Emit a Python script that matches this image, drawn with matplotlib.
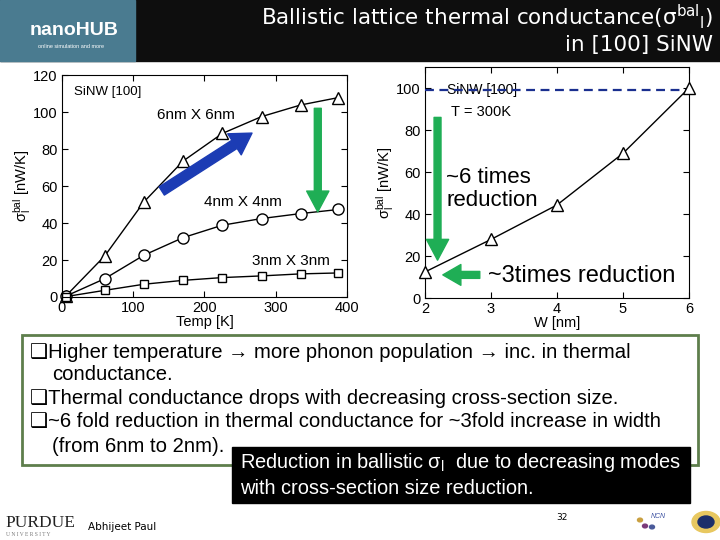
import matplotlib
matplotlib.use("Agg")
import matplotlib.pyplot as plt
from matplotlib.patches import Rectangle, Circle

plt.rcParams['font.family'] = ['Liberation Sans', 'DejaVu Sans']
plt.rcParams['mathtext.default'] = 'regular'

# left panel: conductance vs temperature
temp = [5, 60, 115, 170, 225, 280, 335, 388]
sig_6nm = [0.4, 22.2, 51.4, 73.5, 88.4, 97.5, 103.8, 107.8]
sig_4nm = [0.4, 9.9, 22.6, 32.1, 38.8, 42.4, 45.1, 47.3]
sig_3nm = [0.2, 3.6, 6.9, 9.0, 10.5, 11.4, 12.5, 13.0]

# right panel: conductance vs width at 300 K
width = [2, 3, 4, 5, 6]
sig_300k = [12.4, 27.9, 44.3, 68.9, 100.0]
ref_level = 99

bullets = [
    "\u2751Higher temperature \u2192 more phonon population \u2192 inc. in thermal",
    "conductance.",
    "\u2751Thermal conductance drops with decreasing cross-section size.",
    "\u2751~6 fold reduction in thermal conductance for ~3fold increase in width",
    "(from 6nm to 2nm).",
]
indent = [False, True, False, False, True]

W, H = 720, 540
fig = plt.figure(figsize=(7.2, 5.4), dpi=100)


def fx(px):
    return px / W


def fy(py):
    return 1 - py / H


green = '#1fae55'
blue = '#1c3cb4'

# header bar
fig.patches.append(Rectangle((0, fy(61)), 1, 61 / H, transform=fig.transFigure,
                             color='#0e0e0e', zorder=0))
fig.patches.append(Rectangle((0, fy(61)), fx(135), 61 / H, transform=fig.transFigure,
                             color='#4a7b90', zorder=0))
fig.text(fx(30), fy(31), "nanoHUB", color='white', fontsize=14, fontweight='bold',
         va='center', ha='left')
fig.text(fx(38), fy(46), "online simulation and more", color='white', fontsize=4,
         va='center', ha='left')
fig.text(fx(713), fy(17), r"Ballistic lattice thermal conductance($\sigma^{bal}{}_{l}$)",
         color='white', fontsize=15.5, family='DejaVu Sans', ha='right', va='center')
fig.text(fx(713), fy(45), "in [100] SiNW", color='white', fontsize=15.5,
         family='DejaVu Sans', ha='right', va='center')


def style_axes(ax):
    ax.tick_params(direction='in', top=True, right=True, length=4, labelsize=10.5,
                   pad=3)
    for s in ax.spines.values():
        s.set_linewidth(0.8)


# left axes
ax1 = fig.add_axes([fx(62), fy(297), fx(285), 222 / H])
mk = dict(color='black', lw=1, mfc='white', mec='black', mew=1, clip_on=False)
ax1.plot(temp, sig_6nm, marker='^', ms=9, **mk)
ax1.plot(temp, sig_4nm, marker='o', ms=8, **mk)
ax1.plot(temp, sig_3nm, marker='s', ms=6, **mk)
ax1.set_xlim(0, 400)
ax1.set_ylim(0, 120)
ax1.set_xticks([0, 100, 200, 300, 400])
ax1.set_yticks(range(0, 121, 20))
ax1.set_xlabel("Temp [K]", fontsize=10.5, labelpad=0)
ax1.set_ylabel(r"$\sigma_l^{bal}$ [nW/K]", fontsize=10.5, labelpad=0)
style_axes(ax1)
ax1.text(17, 111, "SiNW [100]", fontsize=9.5, va='center')
ax1.text(134, 98.5, "6nm X 6nm", fontsize=11, va='center')
ax1.text(200, 51.5, "4nm X 4nm", fontsize=11, va='center')
ax1.text(266, 19.5, "3nm X 3nm", fontsize=11, va='center')
ax1.annotate('', xy=(266.7, 88.6), xytext=(140, 57.3),
             arrowprops=dict(arrowstyle='simple,tail_width=0.7,head_width=1.8,head_length=1.5',
                             color=blue, mutation_scale=10, shrinkA=0, shrinkB=0))
ax1.annotate('', xy=(359, 46), xytext=(359, 102),
             arrowprops=dict(arrowstyle='simple,tail_width=0.5,head_width=1.6,head_length=1.5',
                             color=green, mutation_scale=10, shrinkA=0, shrinkB=0))

# right axes
ax2 = fig.add_axes([fx(425), fy(298), fx(264), 231 / H])
ax2.plot(width, sig_300k, marker='^', ms=9, zorder=4, **mk)
ax2.axhline(ref_level, color='#1a2f8f', lw=1.6, ls=(0, (4, 2.5)), zorder=3)
ax2.set_xlim(2, 6)
ax2.set_ylim(0, 110)
ax2.set_xticks(width)
ax2.set_yticks(range(0, 101, 20))
ax2.set_xlabel("W [nm]", fontsize=10.5, labelpad=0)
ax2.set_ylabel(r"$\sigma_l^{bal}$ [nW/K]", fontsize=10.5, labelpad=0)
style_axes(ax2)
ax2.text(2.34, ref_level, "SiNW [100]", fontsize=10, va='center', zorder=2)
ax2.text(2.4, 88.5, "T = 300K", fontsize=10.5, va='center')
ax2.text(2.32, 52, "~6 times\nreduction", fontsize=16, va='center', linespacing=1.15)
ax2.text(2.95, 10.5, "~3times reduction", fontsize=17, va='center')
ax2.annotate('', xy=(2.19, 18), xytext=(2.19, 86),
             arrowprops=dict(arrowstyle='simple,tail_width=0.5,head_width=1.6,head_length=1.5',
                             color=green, mutation_scale=10, shrinkA=0, shrinkB=0))
ax2.annotate('', xy=(2.27, 11), xytext=(2.83, 11),
             arrowprops=dict(arrowstyle='simple,tail_width=0.5,head_width=1.5,head_length=1.3',
                             color=green, mutation_scale=10, shrinkA=0, shrinkB=0),
             annotation_clip=False)

# bullet box
fig.patches.append(Rectangle((fx(22), fy(465)), fx(676), 130 / H, transform=fig.transFigure,
                             facecolor='white', edgecolor='#5e7e4c', lw=2, zorder=1))
rows_y = [352, 375, 399, 422, 446]
for txt, ind, py in zip(bullets, indent, rows_y):
    fig.text(fx(52 if ind else 30), fy(py), txt, fontsize=14.6, va='center',
             family=['Liberation Sans', 'DejaVu Sans'], zorder=2)

# black note box
fig.patches.append(Rectangle((fx(232), fy(503)), fx(458), 56 / H, transform=fig.transFigure,
                             color='black', zorder=3))
fig.text(fx(240), fy(463), r"Reduction in ballistic $\sigma_l$  due to decreasing modes",
         color='white', fontsize=14.4, va='center', zorder=4)
fig.text(fx(240), fy(488), "with cross-section size reduction.", color='white',
         fontsize=14.4, va='center', zorder=4)

# footer
fig.text(fx(5), fy(523), "PURDUE", family='Liberation Serif', fontsize=12.5,
         color='#222222', va='center')
fig.text(fx(6), fy(535), "U N I V E R S I T Y", family='Liberation Serif', fontsize=4,
         color='#777777', va='center')
fig.text(fx(88), fy(527), "Abhijeet Paul", family='DejaVu Sans', fontsize=7.5,
         va='center')
fig.text(fx(556), fy(518), "32", family='DejaVu Sans', fontsize=6.5, va='center')
fig.text(fx(651), fy(516), "NCN", fontsize=5, style='italic', color='#3a4fa0', va='center')
for (px, py, c) in [(640, 520, '#c9a040'), (645, 526, '#7a3a7a'), (652, 527, '#4a5a9a')]:
    fig.patches.append(Circle((fx(px), fy(py)), 2.5 / W, transform=fig.transFigure,
                              color=c, zorder=2))
fig.patches.append(Circle((fx(706), fy(522)), 14 / W, transform=fig.transFigure,
                          color='#e8c860', zorder=2))
fig.patches.append(Circle((fx(706), fy(522)), 8 / W, transform=fig.transFigure,
                          color='#1c2f6a', zorder=3))

fig.savefig("out.png", dpi=100)
